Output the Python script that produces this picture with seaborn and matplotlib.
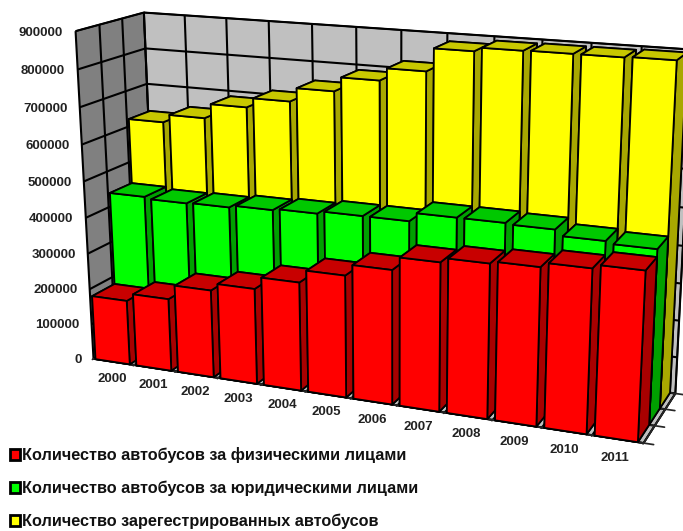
import numpy as np
import matplotlib
matplotlib.use("Agg")
import matplotlib.pyplot as plt
from matplotlib.patches import Patch
from mpl_toolkits.mplot3d import proj3d
import seaborn as sns

#%% Data
years = [2000, 2001, 2002, 2003, 2004, 2005, 2006, 2007, 2008, 2009, 2010, 2011]
fiz = [181000, 202000, 242000, 262000, 295000, 329000, 359000, 394000, 406000, 412000, 424000, 434000]
yur = [441000, 436000, 438000, 444000, 448000, 455000, 455000, 478000, 478000, 475000, 460000, 454000]
total = [623000, 645000, 685000, 711000, 748000, 786000, 819000, 879000, 889000, 890000, 890000, 892000]
z_ticks = [0, 100000, 200000, 300000, 400000, 500000, 600000, 700000, 800000, 900000]
labels = ["Количество автобусов за физическими лицами",
          "Количество автобусов за юридическими лицами",
          "Количество зарегестрированных автобусов"]

#%% Colours: front, top, side
c_red = ["#FF0000", "#C80000", "#A80000"]
c_green = ["#00FF00", "#00C800", "#00A000"]
c_yellow = ["#FFFF00", "#C8C800", "#A8A800"]

#%% Camera: box points (x, y, z) and where they land in the picture
cam_pts = [(0, 0, 0, 92.5, 360), (6, 0, 0, 351.7, 400), (12, 0, 0, 643, 442),
           (0, 0, 9e5, 75, 32.3), (0, 0, 4.5e5, 83.5, 200),
           (0, 3, 9e5, 142.7, 13.3), (6, 3, 9e5, 400.7, 31), (12, 3, 9e5, 694, 49),
           (0, 3, 7e5, 145.7, 84), (12, 3, 0, 675, 394.3), (12, 1, 0, 655, 425), (12, 2, 0, 665, 409.3),
           (0, 1, 4.3e5, 111, 192.7), (0, 2, 6.2e5, 129.3, 119)]

def fit_camera(pts):
    rows = []
    for x, y, z, u, v in pts:
        z = z/1e5; u = u/500; v = v/500
        rows.append([x, y, z, 1, 0, 0, 0, 0, -u*x, -u*y, -u*z, -u])
        rows.append([0, 0, 0, 0, x, y, z, 1, -v*x, -v*y, -v*z, -v])
    p = np.linalg.svd(np.array(rows))[2][-1].reshape(3, 4)
    p = p/p[2, 3]
    p[:2] *= 500
    p[:, 2] /= 1e5
    return p

P = fit_camera(cam_pts)
M = np.vstack([P[0], P[1], [0, 0, 0, -1], P[2]])

#%% Plot
sns.set_theme(style="white", rc={"grid.color": "black", "grid.linewidth": 1.0})
plt.rcParams["font.family"] = ["Liberation Sans", "DejaVu Sans"]

fig = plt.figure(figsize=(6.83, 5.31), dpi=100)
# square axes bigger than the figure, 2D view limits are picture pixels
ax = fig.add_axes([0, -152/531, 1, 683/531], projection="3d", computed_zorder=False)
ax.patch.set_alpha(0)
ax.get_proj = lambda: M
ax.set_xlim(0, 12, view_margin=0)
ax.set_ylim(0, 3, view_margin=0)
ax.set_zlim(0, 900000, view_margin=0)
ax.viewLim.intervalx = (0, 683)
ax.viewLim.intervaly = (683, 0)

ax.set_xticks(range(13))
ax.set_yticks(range(4))
ax.set_zticks(z_ticks)
ax.zaxis.set_ticks_position("none")
ax.zaxis.line.set_color((0, 0, 0, 0))

ax.xaxis.set_pane_color("#808080")
ax.yaxis.set_pane_color("#C0C0C0")
ax.zaxis.set_pane_color("#C0C0C0")
for a in (ax.xaxis, ax.yaxis, ax.zaxis):
    a.pane.set_edgecolor("black")
    a.pane.set_linewidth(1.2)
    a._axinfo["grid"].update(color="black", linewidth=1.5)
    # labels are placed by hand below, the native ones would land on the wrong edges
    for tick in a.get_major_ticks():
        tick.label1.set_visible(False)
        tick.label2.set_visible(False)
    a.label.set_visible(False)
    a.offsetText.set_visible(False)

# back row first, left to right
for vals, row, (front, top, side) in [(total, 2, c_yellow), (yur, 1, c_green), (fiz, 0, c_red)]:
    for i, v in enumerate(vals):
        ax.bar3d(i + 0.05, row, 0, 0.84, 1, v, color=[top, top, front, front, side, side],
                 edgecolor="black", linewidth=1.3, shade=False)

def label(x, y, z, s, ha):
    u, v, _ = proj3d.proj_transform(x, y, z, M)
    ax.text2D(u, v, s, transform=ax.transData, ha=ha, va="center", fontsize=9.5,
              fontweight="bold", color="#222222")

ax.plot([0, 0], [0, 0], [0, 900000], color="black", lw=1.2)
for v in z_ticks:
    ax.plot([-0.1, 0], [0, 0], [v, v], color="black", lw=1.0)
    label(-0.3, 0, v - 8000, str(v), "right")
for i, yr in enumerate(years):
    label(i + 0.45, 0, -50000, str(yr), "center")

handles = [Patch(fc=c[0], ec="black", lw=2) for c in (c_red, c_green, c_yellow)]
fig.legend(handles=handles, labels=labels, loc="upper left", bbox_to_anchor=(10/683, 0.158),
           frameon=False, borderpad=0, borderaxespad=0, handlelength=0.6, handleheight=0.7,
           handletextpad=0.15, labelspacing=1.09, labelcolor="#111111",
           prop={"weight": "bold", "size": 11.7})

fig.savefig("out.png", dpi=100)
